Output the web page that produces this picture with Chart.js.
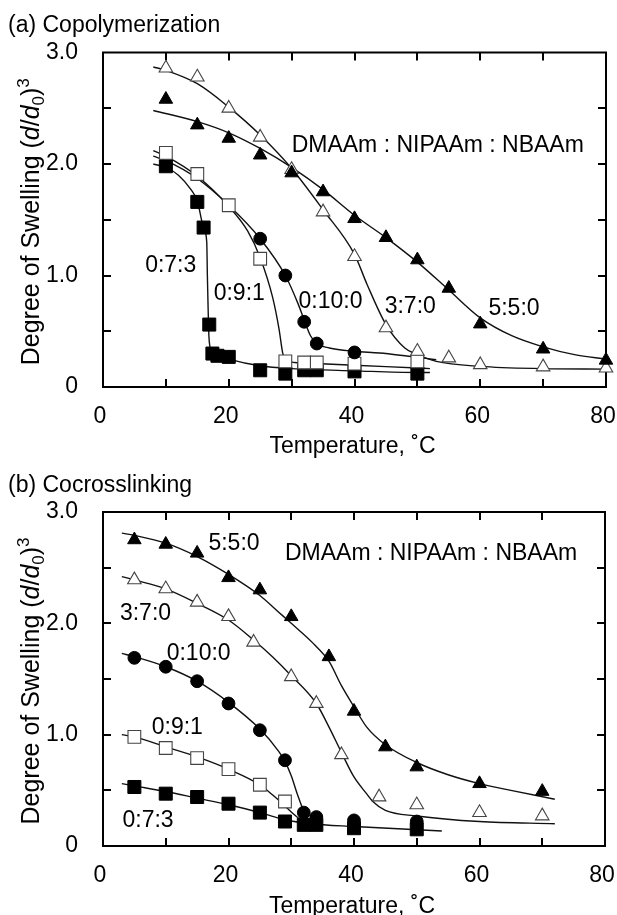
<!DOCTYPE html>
<html>
<head>
<meta charset="utf-8">
<script src="https://cdn.jsdelivr.net/npm/chart.js@4.4.0/dist/chart.umd.min.js"></script>
<style>
html, body { margin: 0; padding: 0; background: #fff; }
#wrap { position: relative; width: 617px; height: 915px; overflow: hidden; }
canvas { position: absolute; left: 0; }
</style>
</head>
<body>
<div id="wrap">
  <canvas id="chartA" width="617" height="458" style="top:0px"></canvas>
  <canvas id="chartB" width="617" height="457" style="top:458px"></canvas>
</div>
<script>
// ---------- texts ----------
const seriesLabels = ['5:5:0', '3:7:0', '0:10:0', '0:9:1', '0:7:3'];
const xTickLabels = ['0', '20', '40', '60', '80'];
const yTickLabels = ['0', '1.0', '2.0', '3.0'];
const panelTitles = ['(a) Copolymerization', '(b) Cocrosslinking'];
const xAxisTitle = 'Temperature, \u02DAC';
const ratioHeader = 'DMAAm : NIPAAm : NBAAm';

// ---------- panel (a) measured points ----------
const aTemp550 = [10, 15, 20, 25, 30, 35, 40, 45, 50, 55, 60, 70, 80];
const aSwell550 = [2.58, 2.35, 2.23, 2.08, 1.92, 1.75, 1.51, 1.34, 1.14, 0.885, 0.565, 0.34, 0.24];
const aTemp370 = [10, 15, 20, 25, 30, 35, 40, 45, 50, 55, 60, 70, 80];
const aSwell370 = [2.86, 2.78, 2.50, 2.24, 1.95, 1.57, 1.17, 0.53, 0.32, 0.26, 0.20, 0.18, 0.17];
const aTemp0100 = [25, 29, 32, 34, 40];
const aSwell0100 = [1.33, 1.00, 0.585, 0.39, 0.31];
const aTemp091 = [10, 15, 20, 25, 29, 32, 34, 40, 50];
const aSwell091 = [2.10, 1.91, 1.63, 1.15, 0.23, 0.22, 0.22, 0.21, 0.23];
const aTemp073 = [10, 15, 16, 16.9, 17.4, 18.2, 20, 25, 29, 32, 34, 40, 50];
const aSwell073 = [1.98, 1.66, 1.43, 0.56, 0.30, 0.28, 0.27, 0.15, 0.12, 0.15, 0.15, 0.14, 0.12];

// ---------- panel (a) fitted curves ----------
const aCurveTemp550 = [8, 15, 20, 25, 30, 35, 40, 45, 50, 55, 60, 65, 70, 75, 80];
const aCurveSwell550 = [2.48, 2.38, 2.28, 2.14, 1.97, 1.77, 1.54, 1.34, 1.12, 0.87, 0.62, 0.46, 0.36, 0.29, 0.25];
const aCurveTemp370 = [8, 10, 15, 20, 25, 30, 35, 40, 42, 45, 48, 50, 53, 60, 70, 80];
const aCurveSwell370 = [2.87, 2.84, 2.72, 2.51, 2.26, 1.96, 1.59, 1.19, 0.92, 0.56, 0.35, 0.29, 0.23, 0.185, 0.165, 0.16];
const aCurveTemp0100 = [8, 10, 15, 20, 25, 29, 31, 32, 33, 34, 36, 40, 44, 48, 53];
const aCurveSwell0100 = [2.07, 2.03, 1.87, 1.63, 1.33, 1.00, 0.75, 0.60, 0.46, 0.39, 0.35, 0.32, 0.305, 0.28, 0.245];
const aCurveTemp091 = [8, 10, 15, 20, 23, 25, 27, 28, 28.6, 29.3, 32, 40, 50, 52];
const aCurveSwell091 = [2.12, 2.07, 1.89, 1.62, 1.40, 1.16, 0.80, 0.52, 0.30, 0.235, 0.215, 0.195, 0.17, 0.165];
const aCurveTemp073 = [8, 10, 12, 14, 15, 16, 16.5, 16.6, 16.7, 16.85, 17.2, 18, 20, 25, 30, 40, 50, 52];
const aCurveSwell073 = [2.00, 1.97, 1.90, 1.77, 1.67, 1.43, 1.30, 1.00, 0.75, 0.45, 0.33, 0.29, 0.25, 0.19, 0.165, 0.145, 0.13, 0.13];

// ---------- panel (b) measured points ----------
const bTemp550 = [5, 10, 15, 20, 25, 30, 36, 40, 45, 50, 60, 70];
const bSwell550 = [2.75, 2.71, 2.63, 2.41, 2.30, 2.06, 1.70, 1.21, 0.89, 0.71, 0.56, 0.49];
const bTemp370 = [5, 10, 15, 20, 24, 30, 34, 38, 44, 50, 60, 70];
const bSwell370 = [2.39, 2.31, 2.19, 2.06, 1.83, 1.52, 1.28, 0.82, 0.44, 0.37, 0.30, 0.27];
const bTemp0100 = [5, 10, 15, 20, 25, 29, 32, 34, 40, 50];
const bSwell0100 = [1.69, 1.61, 1.48, 1.28, 1.04, 0.77, 0.30, 0.26, 0.23, 0.22];
const bTemp091 = [5, 10, 15, 20, 25, 29];
const bSwell091 = [0.98, 0.88, 0.79, 0.69, 0.55, 0.40];
const bTemp073 = [5, 10, 15, 20, 25, 29, 32, 34, 40, 50];
const bSwell073 = [0.53, 0.47, 0.44, 0.38, 0.30, 0.22, 0.19, 0.19, 0.16, 0.15];

// ---------- panel (b) fitted curves ----------
const bCurveTemp550 = [3, 5, 10, 15, 20, 25, 28, 30, 33.5, 36, 38, 40, 42, 45, 50, 55, 60, 65, 72];
const bCurveSwell550 = [2.81, 2.79, 2.72, 2.60, 2.44, 2.25, 2.10, 2.00, 1.82, 1.66, 1.44, 1.25, 1.07, 0.91, 0.75, 0.64, 0.56, 0.50, 0.42];
const bCurveTemp370 = [3, 5, 10, 15, 20, 24, 27, 30, 34, 36, 38, 40, 42, 43, 45, 50, 60, 72];
const bCurveSwell370 = [2.42, 2.39, 2.31, 2.18, 2.03, 1.85, 1.70, 1.53, 1.28, 1.07, 0.84, 0.62, 0.47, 0.40, 0.32, 0.27, 0.22, 0.20];
const bCurveTemp0100 = [3, 5, 10, 15, 20, 25, 28, 29, 30, 31, 32, 32.7];
const bCurveSwell0100 = [1.73, 1.70, 1.61, 1.48, 1.29, 1.05, 0.85, 0.76, 0.63, 0.46, 0.31, 0.22];
const bCurveTemp091 = [3, 5, 10, 15, 20, 25, 27, 29, 30.5, 32];
const bCurveSwell091 = [1.00, 0.98, 0.89, 0.80, 0.69, 0.55, 0.46, 0.36, 0.28, 0.21];
const bCurveTemp073 = [3, 5, 10, 15, 20, 25, 28, 30, 33, 40, 47, 54];
const bCurveSwell073 = [0.56, 0.54, 0.49, 0.43, 0.37, 0.30, 0.25, 0.225, 0.20, 0.175, 0.155, 0.135];

// ---------- styling (not data) ----------
const FONT = '"Liberation Sans", Arial, Helvetica, sans-serif';
const markerStyle = {
  '5:5:0':  { pointStyle: 'triangle', radius: 7.8, fill: '#000', stroke: '#000', bw: 1 },
  '3:7:0':  { pointStyle: 'triangle', radius: 7.8, fill: '#fff', stroke: '#444', bw: 1.1 },
  '0:10:0': { pointStyle: 'circle',   radius: 6.4, fill: '#000', stroke: '#000', bw: 1 },
  '0:9:1':  { pointStyle: 'rect',     radius: 9.0, fill: '#fff', stroke: '#444', bw: 1.1 },
  '0:7:3':  { pointStyle: 'rect',     radius: 9.2, fill: '#000', stroke: '#000', bw: 1 }
};

function zip(xs, ys) { return xs.map((x, i) => ({ x: x, y: ys[i] })); }

const panelA = {
  markers: [[aTemp550, aSwell550], [aTemp370, aSwell370], [aTemp0100, aSwell0100], [aTemp091, aSwell091], [aTemp073, aSwell073]],
  curves: [[aCurveTemp550, aCurveSwell550], [aCurveTemp370, aCurveSwell370], [aCurveTemp0100, aCurveSwell0100], [aCurveTemp091, aCurveSwell091], [aCurveTemp073, aCurveSwell073]]
};
const panelB = {
  markers: [[bTemp550, bSwell550], [bTemp370, bSwell370], [bTemp0100, bSwell0100], [bTemp091, bSwell091], [bTemp073, bSwell073]],
  curves: [[bCurveTemp550, bCurveSwell550], [bCurveTemp370, bCurveSwell370], [bCurveTemp0100, bCurveSwell0100], [bCurveTemp091, bCurveSwell091], [bCurveTemp073, bCurveSwell073]]
};

function buildDatasets(panel) {
  const ds = [];
  seriesLabels.forEach((lab, i) => {
    const st = markerStyle[lab];
    ds.push({
      label: lab + ' points',
      data: zip(panel.markers[i][0], panel.markers[i][1]),
      showLine: false,
      pointStyle: st.pointStyle,
      pointRadius: st.radius,
      pointBackgroundColor: st.fill,
      pointBorderColor: st.stroke,
      pointBorderWidth: st.bw,
      order: 0,
      clip: false
    });
  });
  seriesLabels.forEach((lab, i) => {
    ds.push({
      label: lab + ' fit',
      data: zip(panel.curves[i][0], panel.curves[i][1]),
      showLine: true,
      borderColor: '#111',
      borderWidth: 1.4,
      pointRadius: 0,
      cubicInterpolationMode: 'monotone',
      fill: false,
      order: 1
    });
  });
  return ds;
}

function drawYTitle(ctx, cx, cy, size) {
  const small = Math.round(size * 0.68);
  const parts = [
    { t: 'Degree of Swelling (', f: size + 'px ' + FONT, dy: 0 },
    { t: 'd', f: 'italic ' + size + 'px ' + FONT, dy: 0 },
    { t: '/', f: size + 'px ' + FONT, dy: 0 },
    { t: 'd', f: 'italic ' + size + 'px ' + FONT, dy: 0 },
    { t: '0', f: small + 'px ' + FONT, dy: size * 0.2 },
    { t: ')', f: size + 'px ' + FONT, dy: 0 },
    { t: '3', f: small + 'px ' + FONT, dy: -size * 0.42 }
  ];
  let total = 0;
  parts.forEach(p => { ctx.font = p.f; p.w = ctx.measureText(p.t).width; total += p.w; });
  ctx.save();
  ctx.translate(cx, cy);
  ctx.rotate(-Math.PI / 2);
  ctx.fillStyle = '#000';
  ctx.textBaseline = 'alphabetic';
  ctx.textAlign = 'left';
  let xx = -total / 2;
  parts.forEach(p => { ctx.font = p.f; ctx.fillText(p.t, xx, p.dy); xx += p.w; });
  ctx.restore();
}

const decorPlugin = {
  id: 'decor',
  beforeDatasetsDraw(chart) {
    const { ctx, chartArea: a, scales } = chart;
    const x = scales.x, y = scales.y;
    ctx.save();
    ctx.strokeStyle = '#000';
    ctx.lineWidth = 2;
    ctx.strokeRect(a.left, a.top, a.right - a.left, a.bottom - a.top);
    const tl = 8;
    ctx.beginPath();
    x.ticks.forEach(t => {
      if (t.value <= x.min || t.value >= x.max) return;
      const px = Math.round(x.getPixelForValue(t.value));
      ctx.moveTo(px, a.bottom); ctx.lineTo(px, a.bottom - tl);
      ctx.moveTo(px, a.top); ctx.lineTo(px, a.top + tl);
    });
    y.ticks.forEach(t => {
      if (t.value <= y.min || t.value >= y.max) return;
      const py = Math.round(y.getPixelForValue(t.value));
      ctx.moveTo(a.left, py); ctx.lineTo(a.left + tl, py);
      ctx.moveTo(a.right, py); ctx.lineTo(a.right - tl, py);
    });
    ctx.stroke();
    ctx.restore();
  },
  afterDraw(chart, args, opts) {
    const { ctx, chartArea: a, scales } = chart;
    const x = scales.x, y = scales.y;
    ctx.save();
    ctx.fillStyle = '#000';
    ctx.textBaseline = 'alphabetic';
    // panel title
    ctx.font = '23px ' + FONT;
    ctx.textAlign = 'left';
    ctx.fillText(opts.title, 8, opts.titleBaseline);
    // x axis title
    ctx.textAlign = 'center';
    ctx.fillText(xAxisTitle, (a.left + a.right) / 2 - 2, opts.xTitleBaseline);
    // annotations, anchored in data units
    ctx.textAlign = 'left';
    opts.notes.forEach(n => {
      ctx.fillText(n.text, x.getPixelForValue(n.x), y.getPixelForValue(n.y));
    });
    ctx.restore();
    drawYTitle(ctx, 39, (a.top + a.bottom) / 2 + 2, 25);
  }
};

function makeChart(id, panel, padTop, padRight, plotBottom, canvasH, decor) {
  return new Chart(document.getElementById(id), {
    type: 'scatter',
    data: { datasets: buildDatasets(panel) },
    options: {
      responsive: false,
      animation: false,
      devicePixelRatio: 1,
      layout: { padding: { top: padTop, right: padRight, left: 0, bottom: 0 } },
      plugins: { legend: { display: false }, tooltip: { enabled: false }, decor: decor },
      scales: {
        x: {
          type: 'linear', min: 0, max: 80,
          grid: { display: false }, border: { display: false },
          ticks: {
            stepSize: 10, autoSkip: false, maxRotation: 0, padding: 8, labelOffset: -3,
            color: '#000', font: { family: FONT, size: 23, lineHeight: 1.2 },
            callback: v => (xTickLabels.includes(String(v)) ? String(v) : '')
          },
          afterFit: s => { s.height = canvasH - plotBottom; s.paddingLeft = 0; s.paddingRight = 0; }
        },
        y: {
          type: 'linear', min: 0, max: 3,
          grid: { display: false }, border: { display: false },
          ticks: {
            stepSize: 0.5, autoSkip: false, padding: 17,
            color: '#000', font: { family: FONT, size: 23 },
            callback: v => { const s = v === 0 ? '0' : Number(v).toFixed(1); return yTickLabels.includes(s) ? s : ''; }
          },
          afterFit: s => { s.width = 103; }
        }
      }
    },
    plugins: [decorPlugin]
  });
}

makeChart('chartA', panelA, 52.5, 11, 387, 458, {
  title: panelTitles[0], titleBaseline: 32, xTitleBaseline: 453,
  notes: [
    { text: ratioHeader, x: 30.0, y: 2.11 },
    { text: seriesLabels[4], x: 6.7, y: 1.03 },
    { text: seriesLabels[3], x: 17.6, y: 0.78 },
    { text: seriesLabels[2], x: 31.1, y: 0.71 },
    { text: seriesLabels[1], x: 44.8, y: 0.66 },
    { text: seriesLabels[0], x: 61.3, y: 0.645 }
  ]
});

makeChart('chartB', panelB, 54, 12, 388, 457, {
  title: panelTitles[1], titleBaseline: 33.5, xTitleBaseline: 454.5,
  notes: [
    { text: ratioHeader, x: 29.0, y: 2.57 },
    { text: seriesLabels[0], x: 16.8, y: 2.66 },
    { text: seriesLabels[1], x: 2.7, y: 2.03 },
    { text: seriesLabels[2], x: 10.15, y: 1.67 },
    { text: seriesLabels[3], x: 7.76, y: 1.01 },
    { text: seriesLabels[4], x: 3.1, y: 0.17 }
  ]
});
</script>
</body>
</html>
